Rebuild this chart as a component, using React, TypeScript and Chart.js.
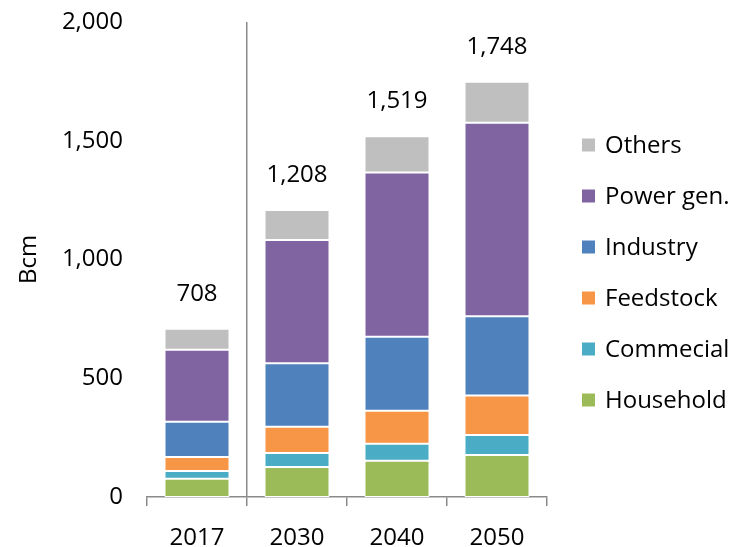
import React, { useEffect, useRef } from 'react';
import { Chart, registerables } from 'chart.js';

Chart.register(...registerables);

const years = ['2017', '2030', '2040', '2050'];
const household = [77, 126, 153, 177];
const commercial = [33, 59, 71, 84];
const feedstock = [58, 111, 139, 166];
const industry = [149, 267, 312, 334];
const powerGen = [303, 519, 691, 815];
const others = [88, 126, 153, 172];

const seriesNames = ['Household', 'Commecial', 'Feedstock', 'Industry', 'Power gen.', 'Others'];
const seriesColors = ['#9BBB59', '#4BACC6', '#F79646', '#4F81BD', '#8064A2', '#BFBFBF'];
const seriesValues = [household, commercial, feedstock, industry, powerGen, others];

const yMin = 0;
const yMax = 2000;
const yStep = 500;
const yTitle = 'Bcm';

const FONT = "'Open Sans', 'Noto Sans', sans-serif";
const AXIS_GRAY = '#8a8a8a';

const totalsPlugin = {
  id: 'totalsPlugin',
  afterDatasetsDraw(chart: any) {
    const ctx = chart.ctx;
    const last = chart.data.datasets.length - 1;
    const meta = chart.getDatasetMeta(last);
    ctx.save();
    ctx.font = `24px ${FONT}`;
    ctx.fillStyle = '#000';
    ctx.textAlign = 'center';
    ctx.textBaseline = 'middle';
    meta.data.forEach((bar: any, i: number) => {
      const total = seriesValues.reduce((s, arr) => s + arr[i], 0);
      ctx.fillText(total.toLocaleString('en-US'), bar.x, bar.y - 35);
    });
    ctx.restore();
  },
};

const legendPlugin = {
  id: 'sideLegend',
  afterDraw(chart: any) {
    const ctx = chart.ctx;
    const items = chart.data.datasets.map((d: any) => ({ label: d.label, color: d.backgroundColor })).reverse();
    const boxX = chart.chartArea.right + 35;
    const startY = 145;
    const step = 51;
    const box = 13;
    ctx.save();
    ctx.font = `24px ${FONT}`;
    ctx.textAlign = 'left';
    ctx.textBaseline = 'middle';
    items.forEach((it: any, i: number) => {
      const cy = startY + i * step;
      ctx.fillStyle = it.color;
      ctx.fillRect(boxX, cy - box / 2, box, box);
      ctx.fillStyle = '#000';
      ctx.fillText(it.label, boxX + box + 10, cy + 1);
    });
    ctx.restore();
  },
};

export default function App() {
  const ref = useRef<HTMLCanvasElement | null>(null);

  useEffect(() => {
    document.body.style.margin = '0';
    if (!ref.current) return;
    const chart = new Chart(ref.current, {
      type: 'bar',
      data: {
        labels: years,
        datasets: seriesNames.map((name, k) => ({
          label: name,
          data: seriesValues[k],
          backgroundColor: seriesColors[k],
          borderColor: '#ffffff',
          borderWidth: 1,
          borderSkipped: false,
          barPercentage: 0.65,
          categoryPercentage: 1,
        })),
      },
      options: {
        animation: false,
        responsive: false,
        maintainAspectRatio: false,
        layout: { padding: { top: 22, right: 195, bottom: 0, left: 0 } },
        plugins: {
          legend: { display: false },
          tooltip: { enabled: false },
        },
        scales: {
          x: {
            stacked: true,
            afterFit: (s: any) => {
              s.height = 50;
              s.paddingLeft = 0;
              s.paddingRight = 0;
            },
            grid: {
              offset: true,
              drawOnChartArea: true,
              drawTicks: true,
              tickLength: 9,
              color: (c: any) => (c.index === 1 ? AXIS_GRAY : 'rgba(0,0,0,0)'),
              lineWidth: 1.5,
              tickColor: AXIS_GRAY,
              tickWidth: 1.5,
            },
            border: { display: true, color: AXIS_GRAY, width: 1.5 },
            ticks: {
              color: '#000',
              font: { size: 24, family: FONT },
              padding: 18,
              maxRotation: 0,
            },
          },
          y: {
            stacked: true,
            min: yMin,
            max: yMax,
            afterFit: (s: any) => {
              s.width = 147;
              s.paddingTop = 0;
              s.paddingBottom = 0;
            },
            grid: { display: false, drawTicks: false },
            border: { display: false },
            ticks: {
              stepSize: yStep,
              color: '#000',
              font: { size: 24, family: FONT },
              padding: 24,
            },
            title: {
              display: true,
              text: yTitle,
              color: '#000',
              font: { size: 24, family: FONT },
              padding: { top: 15, bottom: 0 },
            },
          },
        },
      },
      plugins: [totalsPlugin, legendPlugin],
    });
    return () => chart.destroy();
  }, []);

  return (
    <div style={{ width: 742, height: 547 }}>
      <canvas ref={ref} width={742} height={547} style={{ display: 'block' }} />
    </div>
  );
}
